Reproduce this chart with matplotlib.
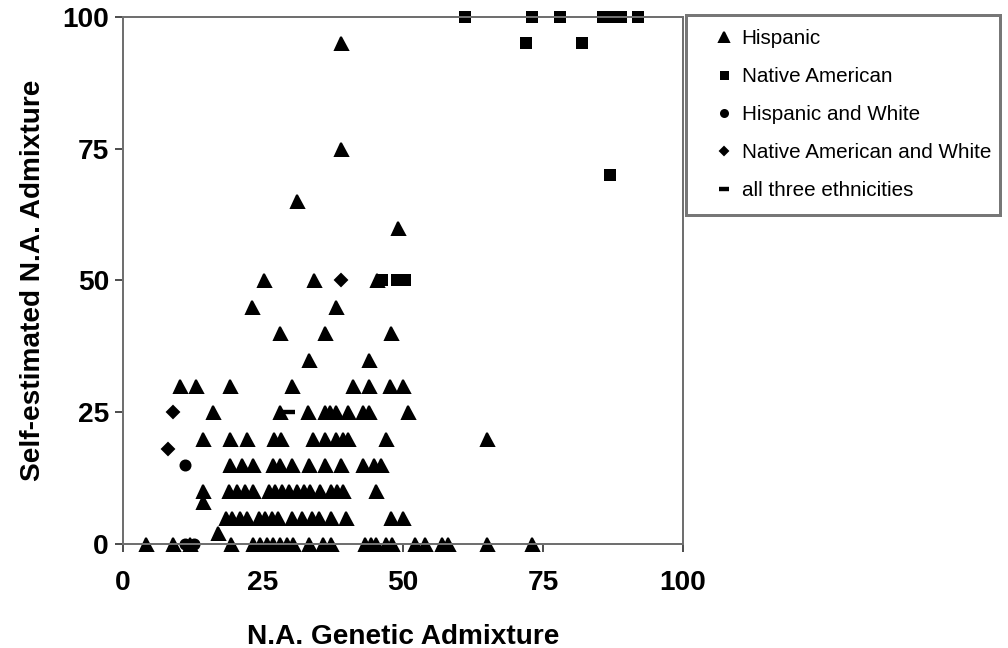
import matplotlib
matplotlib.use("Agg")
import matplotlib.pyplot as plt

plt.rcParams['font.family'] = ['Liberation Sans', 'DejaVu Sans']

# Hispanic points (genetic %, self-estimated %)
hisp_x = [4.2, 9, 12, 19.2, 23.3, 24.5, 25.7, 26.8, 28, 29.2, 30.4, 33.2, 35.8, 37.2,
          43.2, 44.2, 45.2, 47, 48, 52.2, 54, 57, 58, 65, 73,
          17,
          18.4, 19.4, 20.9, 22.1, 24.2, 25.4, 26.6, 27.6, 30.1, 31.9, 33.7, 35, 37.2, 39.9, 47.9, 50,
          14.3,
          14.3, 19, 20.4, 21.8, 23.2, 26, 27.2, 28.4, 29.6, 31, 32.3, 33.4, 35.1, 37.1, 38.2, 39.2, 45.2,
          19.1, 21.2, 23.2, 26.8, 28, 30.1, 33.3, 36, 39, 42.8, 44.9, 46.1,
          14.3, 19.1, 22.1, 27, 28.3, 34, 36, 38, 39.2, 40.2, 47, 65,
          16.1, 28, 33.1, 36, 37, 38, 40.1, 42.8, 44, 50.9,
          10.2, 13.1, 19.1, 30.1, 41.1, 44, 47.6, 50,
          33.2, 43.9,
          28.1, 36, 47.9,
          23.1, 38.1,
          25.1, 34.1, 45.3,
          49.1, 31, 39, 39]
hisp_y = ([0] * 25 + [2] + [5] * 16 + [8] + [10] * 17 + [15] * 12 + [20] * 12
          + [25] * 10 + [30] * 8 + [35] * 2 + [40] * 3 + [45] * 2 + [50] * 3
          + [60, 65, 75, 95])

# Native American
na_x = [46.3, 49, 50.3, 61, 73, 78, 85.7, 87.7, 89, 92, 72, 82, 87]
na_y = [50, 50, 50, 100, 100, 100, 100, 100, 100, 100, 95, 95, 70]

# Hispanic and White
hw_x = [11, 11, 12.6]
hw_y = [15, 0, 0]

# Native American and White
naw_x = [9, 8, 39]
naw_y = [25, 18, 50]

# all three ethnicities
all_x = [29.5]
all_y = [25]

ticks = [0, 25, 50, 75, 100]

fig = plt.figure(figsize=(7, 4.5), dpi=144)
ax = fig.add_axes([0.122, 0.1605, 0.5556, 0.8133])

ax.plot(hisp_x, hisp_y, '^', color='black', markersize=6.5, label='Hispanic', clip_on=False)
ax.plot(na_x, na_y, 's', color='black', markersize=5, label='Native American', clip_on=False)
ax.plot(hw_x, hw_y, 'o', color='black', markersize=5, label='Hispanic and White', clip_on=False)
ax.plot(naw_x, naw_y, 'D', color='black', markersize=4.5, label='Native American and White', clip_on=False)
ax.plot(all_x, all_y, '_', color='black', markersize=6.5, markeredgewidth=2.2,
        label='all three ethnicities', clip_on=False)

ax.set_xlim(0, 100)
ax.set_ylim(0, 100)
ax.set_xticks(ticks)
ax.set_yticks(ticks)
for s in ax.spines.values():
    s.set_color('#707070')
    s.set_linewidth(1.0)
ax.tick_params(axis='x', direction='out', length=4, width=1, color='#505050', pad=9, labelsize=14)
ax.tick_params(axis='y', direction='out', length=4, width=1, color='#505050', pad=3, labelsize=14)
for lab in ax.get_xticklabels() + ax.get_yticklabels():
    lab.set_fontweight('bold')

ax.set_xlabel('N.A. Genetic Admixture', fontsize=14, fontweight='bold', labelpad=14)
ax.set_ylabel('Self-estimated N.A. Admixture', fontsize=14, fontweight='bold', labelpad=8)

leg = fig.legend(loc='upper left', bbox_to_anchor=(0.6806, 0.664, 0.3115, 0.313), mode='expand',
                 fontsize=10.3, frameon=True, fancybox=False, markerscale=0.7,
                 handlelength=2.3, handletextpad=-0.3, labelspacing=0.92, borderpad=0.7,
                 borderaxespad=0)
leg.get_frame().set_edgecolor('#555555')
leg.get_frame().set_linewidth(1.5)

fig.savefig('out.png', dpi=144)
